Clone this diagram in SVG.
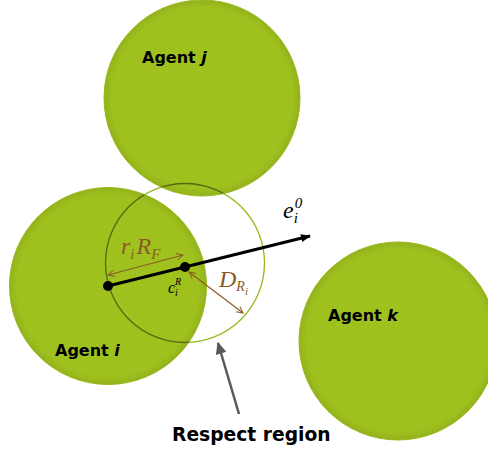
<svg xmlns="http://www.w3.org/2000/svg" width="488" height="450" viewBox="0 0 488 450">
<defs>
<radialGradient id="g" cx="0.5" cy="0.5" r="0.5">
<stop offset="0" stop-color="#a0c21f"/>
<stop offset="0.92" stop-color="#9fc11e"/>
<stop offset="1" stop-color="#93b21b"/>
</radialGradient>
<clipPath id="onAgents">
<circle cx="202" cy="98" r="98"/>
<circle cx="108" cy="286" r="98.5"/>
</clipPath>
<marker id="open" viewBox="0 0 10 10" refX="9" refY="5" markerWidth="8" markerHeight="8" orient="auto-start-reverse" markerUnits="userSpaceOnUse">
<path d="M1,1 L9,5 L1,9" fill="none" stroke="#8a5a24" stroke-width="1.2"/>
</marker>
<marker id="blk" viewBox="0 0 10 10" refX="9" refY="5" markerWidth="12" markerHeight="10" orient="auto" markerUnits="userSpaceOnUse">
<path d="M0,1 L10,5 L0,9 Z" fill="#000"/>
</marker>
<marker id="gry" viewBox="0 0 10 10" refX="9" refY="5" markerWidth="14" markerHeight="12" orient="auto" markerUnits="userSpaceOnUse">
<path d="M0,0.5 L10,5 L0,9.5 Z" fill="#595959"/>
</marker>
</defs>
<style>
.agent{fill:url(#g);stroke:#98b81c;stroke-width:1}
.lbl{font-family:"DejaVu Sans","Liberation Sans",sans-serif;font-weight:bold;font-size:16px;fill:#000}
.big{font-size:18.7px}
.math{font-family:"Liberation Serif","DejaVu Serif",serif;font-style:italic}
.brown{fill:#8a5a24}
.dim{stroke:#8a5a24;stroke-width:1.2;fill:none;marker-start:url(#open);marker-end:url(#open)}
</style>
<g id="agent-j">
<circle class="agent" cx="202" cy="98" r="98"/>
<text class="lbl" x="142" y="63">Agent <tspan font-style="italic">j</tspan></text>
</g>
<g id="agent-i">
<circle class="agent" cx="108" cy="286" r="98.5"/>
<text class="lbl" x="55" y="356">Agent <tspan font-style="italic">i</tspan></text>
</g>
<g id="agent-k">
<circle class="agent" cx="398" cy="341" r="99"/>
<text class="lbl" x="328" y="321">Agent <tspan font-style="italic">k</tspan></text>
</g>
<g id="respect-region">
<circle cx="185" cy="263" r="79.5" fill="none" stroke="#92bb1e" stroke-width="1.3"/>
<circle cx="185" cy="263" r="79.5" fill="none" stroke="#5a6a12" stroke-width="1.3" clip-path="url(#onAgents)"/>
<text class="lbl big" x="172" y="441">Respect region</text>
</g>
<g id="connectors">
<line x1="108" y1="286" x2="310" y2="236" stroke="#000" stroke-width="3" marker-end="url(#blk)"/>
<line class="dim" x1="108" y1="275" x2="183" y2="255"/>
<line class="dim" x1="189" y1="272" x2="243" y2="313"/>
<line x1="239" y1="414" x2="218" y2="343" stroke="#595959" stroke-width="2.5" marker-end="url(#gry)"/>
</g>
<g id="points">
<circle cx="108" cy="286" r="5" fill="#000"/>
<circle cx="185" cy="267" r="5" fill="#000"/>
</g>
<g id="labels">
<text class="math brown" x="121" y="254" font-size="24">r<tspan font-size="15" dy="5">i</tspan><tspan dy="-5" dx="2">R</tspan><tspan font-size="15" dy="5">F</tspan></text>
<text class="math" x="168" y="293" font-size="16">c<tspan font-size="10" dx="0" dy="3">i</tspan><tspan font-size="10" dx="-3" dy="-11">R</tspan></text>
<text class="math brown" x="219" y="287" font-size="24">D<tspan font-size="14" dy="4">R</tspan><tspan font-size="11" dy="4">i</tspan></text>
<text class="math" x="283" y="218" font-size="24">e<tspan font-size="15" dy="5">i</tspan><tspan font-size="15" dx="-3" dy="-15">0</tspan></text>
</g>
</svg>
